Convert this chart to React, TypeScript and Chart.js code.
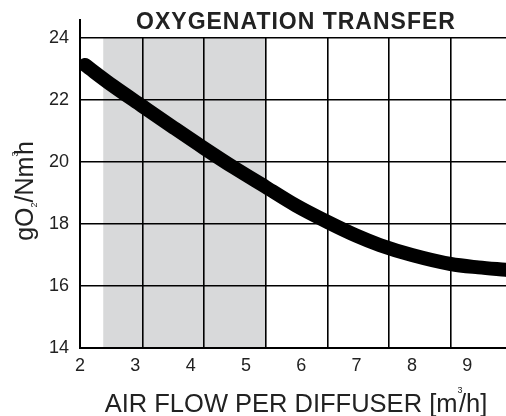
import React, { useEffect, useRef } from "react";
import { Chart, registerables } from "chart.js";

Chart.register(...registerables);

const xTicks = [2, 3, 4, 5, 6, 7, 8, 9];
const xGridLines = [3.13, 4.24, 5.36, 6.47, 7.58, 8.7];
const yTicks = [14, 16, 18, 20, 22, 24];
const shadedFlow = [2.42, 5.36];
const flowValues = [2.09, 2.6, 3.12, 3.7, 4.24, 4.8, 5.36, 5.9, 6.48, 7.0, 7.42, 8.0, 8.7, 9.2, 9.7];
const oxygenValues = [23.13, 22.45, 21.81, 21.1, 20.45, 19.8, 19.19, 18.6, 18.06, 17.62, 17.32, 17.0, 16.71, 16.6, 16.52];

const FONT = "'Liberation Sans', Arial, Helvetica, sans-serif";

type Seg = { t: string; size: number; dy: number; bold?: boolean; adv?: number };

function drawSegs(ctx: CanvasRenderingContext2D, segs: Seg[], cx: number, baseY: number) {
  const widths = segs.map((s) => {
    ctx.font = `${s.bold ? "bold " : ""}${s.size}px ${FONT}`;
    const w = ctx.measureText(s.t).width;
    return s.adv !== undefined ? w * s.adv : w;
  });
  const total = widths.reduce((a, b) => a + b, 0);
  let x = cx - total / 2;
  segs.forEach((s, i) => {
    ctx.font = `${s.bold ? "bold " : ""}${s.size}px ${FONT}`;
    ctx.fillText(s.t, x, baseY + s.dy);
    x += widths[i];
  });
}

const decorPlugin = {
  id: "decor",
  beforeDraw(chart: any) {
    const { ctx, scales } = chart;
    const x0 = scales.x.getPixelForValue(shadedFlow[0]);
    const x1 = scales.x.getPixelForValue(shadedFlow[1]);
    const yTop = scales.y.getPixelForValue(24);
    const yBot = scales.y.getPixelForValue(14);
    ctx.save();
    ctx.fillStyle = "#d8d9da";
    ctx.fillRect(x0, yTop, x1 - x0, yBot - yTop);
    ctx.restore();
  },
  afterDraw(chart: any) {
    const { ctx, chartArea } = chart;
    ctx.save();
    ctx.strokeStyle = "#000";
    ctx.lineWidth = 2;
    ctx.beginPath();
    ctx.moveTo(chartArea.left, chartArea.top);
    ctx.lineTo(chartArea.left, chartArea.top - 19);
    ctx.stroke();

    ctx.fillStyle = "#222";
    ctx.textBaseline = "alphabetic";
    ctx.textAlign = "left";
    ctx.font = `bold 23px ${FONT}`;
    (ctx as any).letterSpacing = "1px";
    const title = "OXYGENATION TRANSFER";
    const tw = ctx.measureText(title).width;
    ctx.fillText(title, 296 - tw / 2, 29);
    (ctx as any).letterSpacing = "0px";

    drawSegs(
      ctx,
      [
        { t: "AIR FLOW PER DIFFUSER [m", size: 25.5, dy: 0 },
        { t: "3", size: 9, dy: -19, adv: 0.3 },
        { t: "/h]", size: 25.5, dy: 0 },
      ],
      296,
      411.5
    );

    ctx.translate(33, 191);
    ctx.rotate(-Math.PI / 2);
    drawSegs(
      ctx,
      [
        { t: "gO", size: 25, dy: 0 },
        { t: "2", size: 9, dy: 4 },
        { t: "/Nm", size: 25, dy: 0 },
        { t: "3", size: 9, dy: -15, adv: 0.3 },
        { t: "h", size: 25, dy: 0 },
      ],
      0,
      0
    );
    ctx.restore();
  },
};

export default function App() {
  const ref = useRef<HTMLCanvasElement | null>(null);
  useEffect(() => {
    document.body.style.margin = "0";
    const canvas = ref.current!;
    const chart = new Chart(canvas, {
      type: "line",
      data: {
        datasets: [
          {
            data: flowValues.map((x, i) => ({ x, y: oxygenValues[i] })),
            borderColor: "#000",
            borderWidth: 14,
            borderCapStyle: "round",
            borderJoinStyle: "round",
            pointRadius: 0,
            cubicInterpolationMode: "monotone",
            fill: false,
          },
        ],
      },
      options: {
        animation: false,
        responsive: false,
        devicePixelRatio: 1,
        layout: { padding: { top: 38, left: 0, right: 0, bottom: 0 } },
        plugins: { legend: { display: false }, tooltip: { enabled: false }, title: { display: false } },
        scales: {
          x: {
            type: "linear",
            position: "bottom",
            min: 2,
            max: 9.7,
            afterBuildTicks: (s: any) => {
              s.ticks = xTicks.map((v) => ({ value: v }));
            },
            afterFit: (s: any) => {
              s.height = 68;
            },
            grid: { display: false, drawTicks: false },
            border: { display: true, color: "#000", width: 2 },
            ticks: {
              font: { family: FONT, size: 18 },
              color: "#222",
              padding: 7,
              maxRotation: 0,
              autoSkip: false,
            },
          },
          xg: {
            type: "linear",
            position: "bottom",
            min: 2,
            max: 9.7,
            afterBuildTicks: (s: any) => {
              s.ticks = xGridLines.map((v) => ({ value: v }));
            },
            afterFit: (s: any) => {
              s.height = 0;
            },
            grid: { color: "#000", lineWidth: 1.6, drawTicks: false },
            border: { display: false },
            ticks: { display: false },
          },
          y: {
            type: "linear",
            min: 14,
            max: 24,
            afterBuildTicks: (s: any) => {
              s.ticks = yTicks.map((v) => ({ value: v }));
            },
            afterFit: (s: any) => {
              s.width = 80;
            },
            grid: { color: "#000", lineWidth: 1.6, drawTicks: false },
            border: { display: true, color: "#000", width: 2 },
            ticks: {
              font: { family: FONT, size: 18 },
              color: "#222",
              padding: 11,
            },
          },
        },
      } as any,
      plugins: [decorPlugin],
    });
    return () => chart.destroy();
  }, []);
  return <canvas ref={ref} width={506} height={416} style={{ display: "block" }} />;
}
